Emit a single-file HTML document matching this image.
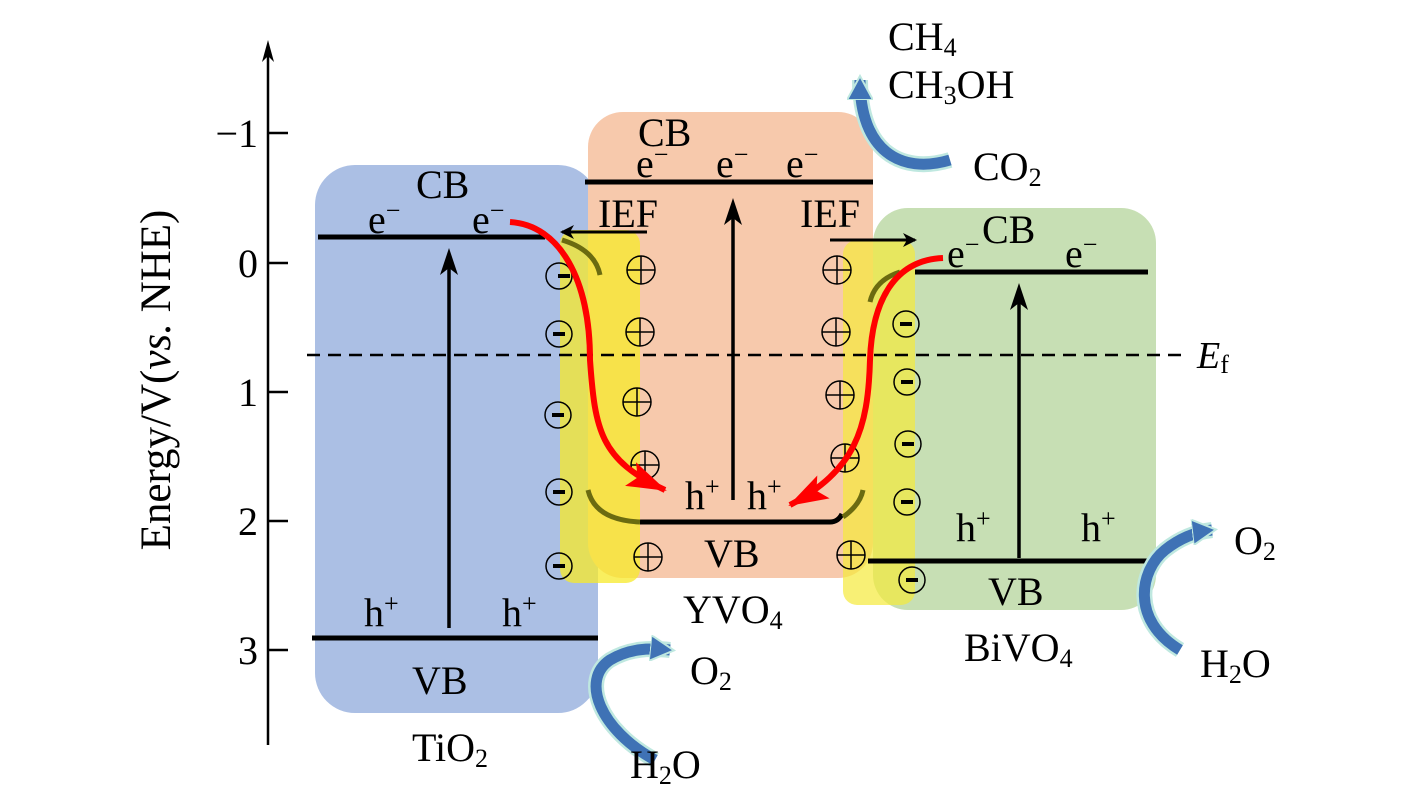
<!DOCTYPE html>
<html><head><style>body{margin:0;background:#fff}svg{display:block}text{font-family:"Liberation Serif",serif;fill:#000}</style></head><body>
<svg width="1417" height="803" viewBox="0 0 1417 803">
<defs>
<marker id="ak" markerWidth="14" markerHeight="14" refX="12" refY="7" orient="auto" markerUnits="userSpaceOnUse"><path d="M0,0 L14,7 L0,14 L4,7z" fill="#000"/></marker>
<marker id="ar" markerWidth="40" markerHeight="30" refX="38" refY="15" orient="auto" markerUnits="userSpaceOnUse"><path d="M0,2 L40,15 L0,28 L8,15z" fill="#f00"/></marker>
<marker id="ab" markerWidth="26" markerHeight="26" refX="20" refY="13" orient="auto" markerUnits="userSpaceOnUse"><path d="M0,0 L24,13 L0,26z" fill="#3f72b5" stroke="#bfe8e0" stroke-width="2"/></marker>
</defs>
<rect x="315" y="165" width="283" height="548" rx="40" fill="#abbfe4"/>
<rect x="588" y="112" width="285" height="466" rx="35" fill="#f7c9ac"/>
<rect x="873" y="208" width="283" height="402" rx="35" fill="#c7dfb4"/>
<rect x="560" y="230" width="80" height="353" rx="14" fill="#f7ea2a" opacity="0.75"/>
<rect x="843" y="240" width="72" height="365" rx="14" fill="#f5ea3a" opacity="0.7"/>
<line x1="268" y1="48" x2="268" y2="745" stroke="#000" stroke-width="2.5"/>
<path d="M268,40 L262,62 L268,56 L274,62z" fill="#000"/>
<g stroke="#000" stroke-width="2.5"><line x1="268" y1="133" x2="288" y2="133"/><line x1="268" y1="263" x2="288" y2="263"/><line x1="268" y1="392" x2="288" y2="392"/><line x1="268" y1="521" x2="288" y2="521"/><line x1="268" y1="650" x2="288" y2="650"/></g>
<g font-size="40" text-anchor="end"><text x="258" y="147">−1</text><text x="258" y="277">0</text><text x="258" y="406">1</text><text x="258" y="535">2</text><text x="258" y="664">3</text></g>
<text x="0" y="0" font-size="43" text-anchor="middle" transform="translate(170,380) rotate(-90)">Energy/V(<tspan font-style="italic">vs.</tspan> NHE)</text>
<line x1="307" y1="355" x2="1185" y2="355" stroke="#000" stroke-width="2.5" stroke-dasharray="13,8"/>
<text x="1197" y="368" font-size="38" font-style="italic">E<tspan font-size="26" font-style="normal" dy="5">f</tspan></text>
<g stroke="#000" stroke-width="5">
<line x1="318" y1="237" x2="545" y2="237"/><line x1="312" y1="638" x2="598" y2="638"/>
<line x1="585" y1="182" x2="873" y2="182"/><path d="M640,522 L830,522 Q838,522 842,514" fill="none"/>
<line x1="915" y1="272" x2="1148" y2="272"/><line x1="868" y1="561" x2="1155" y2="561"/>
</g>
<g stroke="#6b6b10" stroke-width="5" fill="none"><path d="M562,240 Q595,250 600,275"/><path d="M588,490 Q595,520 640,522"/><path d="M843,517 Q860,505 863,490"/><path d="M870,302 Q875,280 900,272"/></g>
<g stroke="#000" stroke-width="3.5"><line x1="449" y1="628" x2="449" y2="262"/><line x1="733" y1="500" x2="733" y2="212"/><line x1="1019" y1="558" x2="1019" y2="297"/></g>
<path d="M449,248 L440,275 L449,268 L458,275z M733,198 L724,225 L733,218 L742,225z M1019,283 L1010,310 L1019,303 L1028,310z" fill="#000"/>
<line x1="647" y1="232" x2="562" y2="232" stroke="#000" stroke-width="3" marker-end="url(#ak)"/>
<line x1="830" y1="240" x2="915" y2="240" stroke="#000" stroke-width="3" marker-end="url(#ak)"/>
<g fill="none" stroke="#000" stroke-width="1.5">
<circle cx="559" cy="276" r="13"/><circle cx="559" cy="334" r="13"/><circle cx="558" cy="415" r="13"/><circle cx="559" cy="492" r="13"/><circle cx="559" cy="566" r="13"/>
<circle cx="906" cy="324" r="13"/><circle cx="907" cy="382" r="13"/><circle cx="908" cy="444" r="13"/><circle cx="907" cy="502" r="13"/><circle cx="912" cy="580" r="13"/>
<circle cx="641" cy="270" r="14"/><circle cx="640" cy="332" r="14"/><circle cx="637" cy="402" r="14"/><circle cx="645" cy="465" r="14"/><circle cx="648" cy="557" r="14"/>
<circle cx="837" cy="270" r="14"/><circle cx="836" cy="332" r="14"/><circle cx="840" cy="395" r="14"/><circle cx="845" cy="458" r="14"/><circle cx="851" cy="555" r="14"/>
<path d="M627,270h28M641,256v28 M626,332h28M640,318v28 M623,402h28M637,388v28 M631,465h28M645,451v28 M634,557h28M648,543v28 M823,270h28M837,256v28 M822,332h28M836,318v28 M826,395h28M840,381v28 M831,458h28M845,444v28 M837,555h28M851,541v28"/>
</g>
<g stroke="#000" stroke-width="4"><path d="M558,276h12 M553,334h12 M552,415h12 M553,492h12 M553,566h12 M900,324h12 M901,382h12 M902,444h12 M901,502h12 M906,580h12"/></g>
<path d="M510,222 C560,225 590,280 590,360 C595,430 600,460 665,490" fill="none" stroke="#f00" stroke-width="6" marker-end="url(#ar)"/>
<path d="M943,258 C895,260 872,300 870,360 C868,430 855,470 790,505" fill="none" stroke="#f00" stroke-width="6" marker-end="url(#ar)"/>
<g fill="none" stroke-linecap="butt">
<path d="M950,160 C900,175 860,150 860,80" stroke="#bfe8e0" stroke-width="16"/><path d="M950,160 C900,175 860,150 860,80" stroke="#3f72b5" stroke-width="11" marker-end="url(#ab)"/>
<path d="M655,760 C600,730 580,680 610,660 C630,648 650,648 670,650" stroke="#bfe8e0" stroke-width="16"/><path d="M655,760 C600,730 580,680 610,660 C630,648 650,648 670,650" stroke="#3f72b5" stroke-width="11" marker-end="url(#ab)"/>
<path d="M1180,650 C1130,620 1140,570 1165,550 C1180,538 1195,532 1212,530" stroke="#bfe8e0" stroke-width="16"/><path d="M1180,650 C1130,620 1140,570 1165,550 C1180,538 1195,532 1212,530" stroke="#3f72b5" stroke-width="11" marker-end="url(#ab)"/>
</g>
<g font-size="40">
<text x="416" y="198">CB</text><text x="368" y="233">e<tspan font-size="26" dy="-14">−</tspan></text><text x="472" y="233">e<tspan font-size="26" dy="-14">−</tspan></text>
<text x="364" y="626">h<tspan font-size="26" dy="-14">+</tspan></text><text x="502" y="626">h<tspan font-size="26" dy="-14">+</tspan></text>
<text x="412" y="694">VB</text><text x="412" y="761">TiO<tspan font-size="26" dy="6">2</tspan></text>
<text x="638" y="146">CB</text><text x="636" y="177">e<tspan font-size="26" dy="-14">−</tspan></text><text x="716" y="177">e<tspan font-size="26" dy="-14">−</tspan></text><text x="786" y="177">e<tspan font-size="26" dy="-14">−</tspan></text>
<text x="598" y="227">IEF</text><text x="800" y="227">IEF</text>
<text x="685" y="509">h<tspan font-size="26" dy="-14">+</tspan></text><text x="747" y="509">h<tspan font-size="26" dy="-14">+</tspan></text>
<text x="704" y="567">VB</text><text x="683" y="623">YVO<tspan font-size="26" dy="6">4</tspan></text>
<text x="947" y="267">e<tspan font-size="26" dy="-14">−</tspan></text><text x="982" y="243">CB</text><text x="1065" y="267">e<tspan font-size="26" dy="-14">−</tspan></text>
<text x="956" y="541">h<tspan font-size="26" dy="-14">+</tspan></text><text x="1081" y="541">h<tspan font-size="26" dy="-14">+</tspan></text>
<text x="988" y="605">VB</text><text x="964" y="661">BiVO<tspan font-size="26" dy="6">4</tspan></text>
<text x="888" y="50">CH<tspan font-size="26" dy="6">4</tspan></text><text x="888" y="98">CH<tspan font-size="26" dy="6">3</tspan><tspan dy="-6">OH</tspan></text>
<text x="973" y="180">CO<tspan font-size="26" dy="6">2</tspan></text>
<text x="690" y="684">O<tspan font-size="26" dy="6">2</tspan></text><text x="630" y="778">H<tspan font-size="26" dy="6">2</tspan><tspan dy="-6">O</tspan></text>
<text x="1234" y="554">O<tspan font-size="26" dy="6">2</tspan></text><text x="1200" y="677">H<tspan font-size="26" dy="6">2</tspan><tspan dy="-6">O</tspan></text>
</g>
</svg>
</body></html>
